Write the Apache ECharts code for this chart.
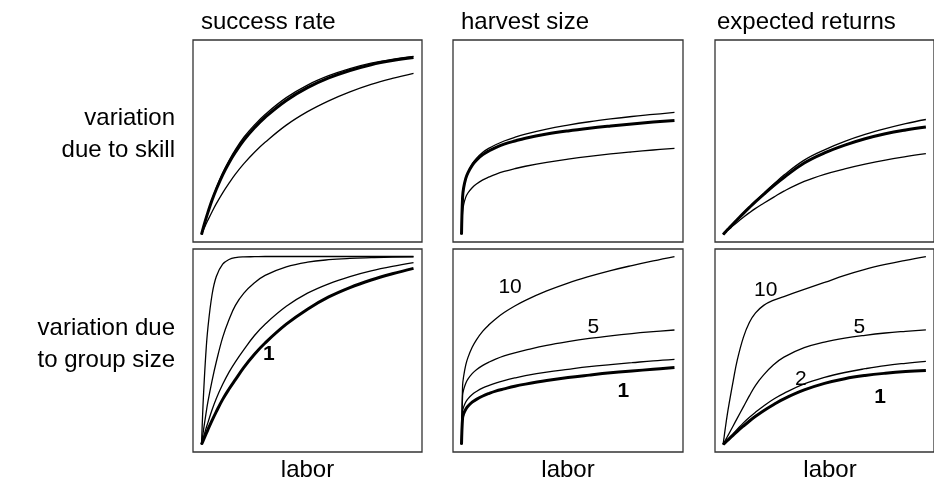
<!DOCTYPE html>
<html>
<head>
<meta charset="utf-8">
<script src="https://cdn.jsdelivr.net/npm/echarts@6/dist/echarts.min.js"></script>
<style>
  html, body { margin: 0; padding: 0; background: #fff; }
  #chart { width: 934px; height: 484px; }
</style>
</head>
<body>
<div id="chart"></div>
<script>
// labor (shared x for every curve), scaled 0..1
const labor = [0, 0.005, 0.01, 0.02, 0.03, 0.05, 0.07, 0.1, 0.13, 0.16, 0.2, 0.25, 0.3, 0.4, 0.5, 0.6, 0.7, 0.8, 0.9, 1];

// top row: variation due to skill (thick = average, thin = higher / lower skill)
const successAvg  = [0, 0.021, 0.042, 0.081, 0.117, 0.184, 0.242, 0.319, 0.384, 0.44, 0.505, 0.571, 0.627, 0.717, 0.785, 0.837, 0.877, 0.908, 0.93, 0.946];
const successHigh = [0, 0.021, 0.042, 0.082, 0.119, 0.188, 0.249, 0.329, 0.396, 0.454, 0.52, 0.586, 0.642, 0.732, 0.799, 0.849, 0.887, 0.916, 0.936, 0.952];
const successLow  = [0, 0.013, 0.027, 0.052, 0.076, 0.122, 0.165, 0.223, 0.275, 0.323, 0.379, 0.44, 0.493, 0.585, 0.657, 0.715, 0.763, 0.803, 0.835, 0.862];

const harvestAvg  = [0, 0.2, 0.25, 0.3, 0.33, 0.37, 0.398, 0.427, 0.448, 0.465, 0.483, 0.5, 0.515, 0.537, 0.554, 0.568, 0.58, 0.591, 0.601, 0.61];
const harvestHigh = [0, 0.2, 0.25, 0.3, 0.333, 0.376, 0.407, 0.44, 0.462, 0.48, 0.5, 0.52, 0.537, 0.564, 0.585, 0.603, 0.618, 0.631, 0.642, 0.653];
const harvestLow  = [0, 0.12, 0.16, 0.2, 0.222, 0.25, 0.27, 0.292, 0.308, 0.322, 0.337, 0.352, 0.365, 0.386, 0.403, 0.418, 0.431, 0.442, 0.452, 0.461];

const returnsAvg  = [0, 0.006, 0.012, 0.024, 0.035, 0.058, 0.08, 0.113, 0.145, 0.176, 0.215, 0.262, 0.305, 0.382, 0.436, 0.478, 0.512, 0.539, 0.559, 0.575];
const returnsHigh = [0, 0.006, 0.012, 0.024, 0.035, 0.058, 0.08, 0.114, 0.147, 0.179, 0.22, 0.27, 0.318, 0.398, 0.453, 0.498, 0.535, 0.566, 0.593, 0.615];
const returnsLow  = [0, 0.005, 0.01, 0.02, 0.029, 0.048, 0.066, 0.092, 0.117, 0.14, 0.167, 0.2, 0.232, 0.284, 0.322, 0.351, 0.376, 0.398, 0.416, 0.432];

// bottom row: variation due to group size (1, 2, 5, 10)
const groupSizes = [1, 2, 5, 10];
const successByGroup = [
  [0, 0.013, 0.026, 0.052, 0.078, 0.128, 0.175, 0.24, 0.295, 0.345, 0.41, 0.48, 0.54, 0.64, 0.72, 0.785, 0.835, 0.875, 0.908, 0.937],
  [0, 0.02, 0.04, 0.08, 0.115, 0.185, 0.245, 0.32, 0.385, 0.44, 0.505, 0.58, 0.64, 0.735, 0.805, 0.855, 0.893, 0.923, 0.947, 0.967],
  [0, 0.04, 0.08, 0.155, 0.225, 0.34, 0.44, 0.57, 0.665, 0.74, 0.805, 0.86, 0.9, 0.945, 0.97, 0.983, 0.99, 0.994, 0.997, 0.998],
  [0, 0.148, 0.274, 0.473, 0.617, 0.798, 0.894, 0.959, 0.984, 0.994, 0.998, 0.999, 1, 1, 1, 1, 1, 1, 1, 1]
];
const harvestByGroup = [
  [0, 0.142, 0.163, 0.187, 0.203, 0.225, 0.24, 0.258, 0.272, 0.284, 0.296, 0.31, 0.321, 0.34, 0.356, 0.369, 0.381, 0.391, 0.4, 0.409],
  [0, 0.176, 0.2, 0.226, 0.243, 0.266, 0.282, 0.301, 0.315, 0.327, 0.34, 0.354, 0.366, 0.385, 0.4, 0.414, 0.425, 0.435, 0.445, 0.453],
  [0, 0.261, 0.292, 0.326, 0.348, 0.377, 0.398, 0.421, 0.439, 0.454, 0.471, 0.488, 0.502, 0.527, 0.547, 0.564, 0.578, 0.59, 0.6, 0.609],
  [0, 0.312, 0.363, 0.423, 0.462, 0.517, 0.557, 0.603, 0.638, 0.668, 0.702, 0.737, 0.767, 0.817, 0.859, 0.894, 0.925, 0.952, 0.977, 1]
];
const returnsByGroup = [
  [0, 0.005, 0.01, 0.02, 0.03, 0.05, 0.07, 0.098, 0.125, 0.15, 0.18, 0.213, 0.243, 0.29, 0.325, 0.35, 0.367, 0.379, 0.388, 0.394],
  [0, 0.006, 0.012, 0.024, 0.035, 0.058, 0.081, 0.115, 0.145, 0.172, 0.205, 0.242, 0.272, 0.322, 0.357, 0.383, 0.403, 0.42, 0.432, 0.442],
  [0, 0.01, 0.02, 0.04, 0.06, 0.1, 0.14, 0.2, 0.26, 0.315, 0.37, 0.425, 0.465, 0.515, 0.545, 0.566, 0.581, 0.593, 0.602, 0.61],
  [0, 0.04, 0.08, 0.155, 0.22, 0.34, 0.45, 0.57, 0.65, 0.7, 0.74, 0.768, 0.787, 0.825, 0.862, 0.9, 0.932, 0.958, 0.98, 1]
];

// curve labels (group size) placed in data units of each bottom panel
const successLabels = [[0.318, 0.482, '1']];
const harvestLabels = [[0.228, 0.839, '10'], [0.619, 0.623, '5'], [0.76, 0.281, '1']];
const returnsLabels = [[0.21, 0.822, '10'], [0.672, 0.623, '5'], [0.383, 0.347, '2'], [0.774, 0.254, '1']];

const columnTitles = ['success rate', 'harvest size', 'expected returns'];
const rowTitles = [['variation', 'due to skill'], ['variation due', 'to group size']];
const xTitle = 'labor';

const FONT = '"Liberation Sans", Arial, Helvetica, sans-serif';
const cols = [{ left: 193, width: 229 }, { left: 453, width: 230 }, { left: 715, width: 230 }];
const rows = [{ top: 40, height: 202 }, { top: 249, height: 203 }];

const chart = echarts.init(document.getElementById('chart'));

const grid = [], xAxis = [], yAxis = [], series = [];
rows.forEach((r) => {
  cols.forEach((c) => {
    grid.push({
      left: c.left, top: r.top, width: c.width, height: r.height,
      show: true, borderColor: '#333', borderWidth: 1.3, backgroundColor: 'transparent'
    });
    const i = grid.length - 1;
    xAxis.push({ gridIndex: i, type: 'value', min: -0.04, max: 1.04, show: false });
    yAxis.push({ gridIndex: i, type: 'value', min: -0.04, max: 1.04, show: false });
  });
});

function curve(idx, ys, thick) {
  series.push({
    type: 'line', xAxisIndex: idx, yAxisIndex: idx,
    data: labor.map((x, k) => [x, ys[k]]),
    showSymbol: false, silent: true, smooth: 0.4,
    lineStyle: { color: '#000', width: thick ? 3 : 1.3 }
  });
}

// top row
curve(0, successHigh); curve(0, successLow); curve(0, successAvg, true);
curve(1, harvestHigh); curve(1, harvestLow); curve(1, harvestAvg, true);
curve(2, returnsHigh); curve(2, returnsLow); curve(2, returnsAvg, true);
// bottom row
groupSizes.forEach((g, k) => {
  curve(3, successByGroup[k], g === 1);
  curve(4, harvestByGroup[k], g === 1);
  curve(5, returnsByGroup[k], g === 1);
});

chart.setOption({
  animation: false,
  backgroundColor: '#fff',
  grid, xAxis, yAxis, series
});

// text: titles, row labels and the curve labels (positioned through each grid's scales)
const graphic = [];
const txt = (t, x, y, align, size, weight) => ({
  type: 'text', x, y, silent: true,
  style: {
    text: t, font: (weight || 'normal') + ' ' + (size || 24) + 'px ' + FONT, fill: '#000',
    textAlign: align, align: align, textVerticalAlign: 'middle', verticalAlign: 'middle'
  }
});
const titleX = [201, 461, 717];
columnTitles.forEach((t, i) => {
  graphic.push(txt(t, titleX[i], 22, 'left'));
  graphic.push(txt(xTitle, cols[i].left + cols[i].width / 2, 470, 'center'));
});
const rowY = [[118, 150], [328, 360]];
rowTitles.forEach((lines, r) => {
  lines.forEach((t, k) => graphic.push(txt(t, 175, rowY[r][k], 'right')));
});
[[3, successLabels], [4, harvestLabels], [5, returnsLabels]].forEach(([idx, list]) => {
  list.forEach((d) => {
    const p = chart.convertToPixel({ gridIndex: idx }, [d[0], d[1]]);
    graphic.push(txt(d[2], p[0], p[1], 'center', 21, d[2] === '1' ? 'bold' : 'normal'));
  });
});
chart.setOption({ graphic });
</script>
</body>
</html>
